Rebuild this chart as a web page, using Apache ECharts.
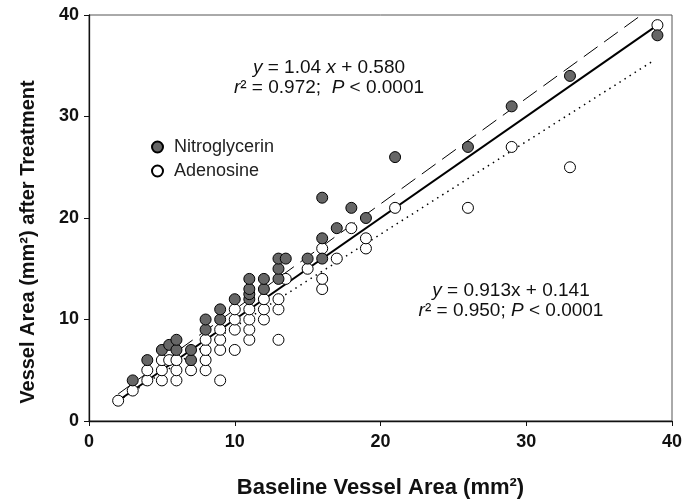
<!DOCTYPE html>
<html>
<head>
<meta charset="utf-8">
<script src="https://cdn.jsdelivr.net/npm/echarts@6/dist/echarts.min.js"></script>
<style>
html,body{margin:0;padding:0;background:#fff;}
#chart{width:694px;height:502px;}
</style>
</head>
<body>
<div id="chart"></div>
<script>
// ---- data ----
const xTicks = [0, 10, 20, 30, 40];
const yTicks = [0, 10, 20, 30, 40];

const adenosine = [
  [2,2],[3,3],[4,4],[4,5],[5,4],[5,5],[5,6],[5.5,6],[6,4],[6,5],[6,6],[7,5],
  [8,5],[8,6],[8,7],[8,8],[9,4],[9,7],[9,8],[9,9],[10,7],[10,9],[10,10],[10,11],
  [11,8],[11,9],[11,10],[11,11],[12,10],[12,11],[12,12],[13,8],[13,11],[13,12],
  [13.5,14],[15,15],[16,13],[16,14],[16,17],[17,16],[18,19],[19,17],[19,18],
  [21,21],[26,21],[29,27],[33,25],[39,39]
];

const nitroglycerin = [
  [3,4],[4,6],[5,7],[5.5,7.5],[6,7],[6,8],[7,6],[7,7],[8,9],[8,10],[9,10],[9,11],
  [10,12],[11,12],[11,12.5],[11,13],[11,14],[12,13],[12,14],[13,14],[13,15],[13,16],
  [13.5,16],[15,16],[16,16],[16,18],[16,22],[17,19],[18,21],[19,20],[21,26],
  [26,27],[29,31],[33,34],[39,38]
];

// line end points
const identityLine = [[2,2],[39,39]];          // solid line of identity
const nitroFitLine = [[2,2.66],[37.9,40]];      // dashed: y = 1.04x + 0.580
const adenoFitLine = [[2,1.97],[38.7,35.47]];   // dotted: y = 0.913x + 0.141

const seriesNames = ['Nitroglycerin', 'Adenosine'];
// -----------------------------------------------

const FONT = '"Liberation Sans", Arial, sans-serif';
const chart = echarts.init(document.getElementById('chart'), null, {renderer: 'canvas'});

const option = {
  animation: false,
  backgroundColor: '#fff',
  grid: {
    left: 89, right: 22, top: 15, bottom: 81,
    outerBoundsMode: 'none', containLabel: false,
    show: true, borderColor: '#555', borderWidth: 1, backgroundColor: 'transparent'
  },
  xAxis: {
    type: 'value', min: xTicks[0], max: xTicks[xTicks.length-1], interval: 10,
    name: 'Baseline Vessel Area (mm²)', nameLocation: 'middle', nameGap: 56,
    nameTextStyle: {fontFamily: FONT, fontWeight: 'bold', fontSize: 22, color: '#111'},
    axisLine: {show: true, lineStyle: {color: '#111', width: 1.3}},
    axisTick: {show: true, inside: false, length: 5, lineStyle: {color: '#111', width: 1}},
    axisLabel: {fontFamily: FONT, fontWeight: 'bold', fontSize: 18, color: '#111', margin: 12},
    splitLine: {show: false}
  },
  yAxis: {
    type: 'value', min: yTicks[0], max: yTicks[yTicks.length-1], interval: 10,
    name: 'Vessel Area (mm²) after Treatment', nameLocation: 'middle', nameGap: 51,
    nameTextStyle: {fontFamily: FONT, fontWeight: 'bold', fontSize: 20, color: '#111', padding: [0, 48, 0, 0]},
    axisLine: {show: true, lineStyle: {color: '#111', width: 1.3}},
    axisTick: {show: true, inside: false, length: 5, lineStyle: {color: '#111', width: 1}},
    axisLabel: {fontFamily: FONT, fontWeight: 'bold', fontSize: 18, color: '#111', margin: 10},
    splitLine: {show: false}
  },
  legend: {
    data: seriesNames,
    orient: 'vertical', left: 146, top: 133,
    itemWidth: 11, itemHeight: 11, itemGap: 6,
    textStyle: {fontFamily: FONT, fontSize: 18, color: '#222', padding: [0,0,0,6]}
  },
  series: [
    {
      type: 'line', name: 'identity', data: identityLine, symbol: 'none', silent: true, z: 2,
      lineStyle: {color: '#000', width: 2}
    },
    {
      type: 'line', name: 'nitroFit', data: nitroFitLine, symbol: 'none', silent: true, z: 2,
      lineStyle: {color: '#000', width: 1, type: [17, 8]}
    },
    {
      type: 'line', name: 'adenoFit', data: adenoFitLine, symbol: 'none', silent: true, z: 2,
      lineStyle: {color: '#000', width: 1.5, type: [1.5, 4.5]}
    },
    {
      type: 'scatter', name: seriesNames[1], data: adenosine, symbol: 'circle', symbolSize: 11, z: 3,
      itemStyle: {color: '#fff', borderColor: '#000', borderWidth: 1, opacity: 1}
    },
    {
      type: 'scatter', name: seriesNames[0], data: nitroglycerin, symbol: 'circle', symbolSize: 11, z: 4,
      itemStyle: {color: '#666', borderColor: '#000', borderWidth: 1, opacity: 1}
    }
  ],
  graphic: [
    {
      type: 'text', z: 10, silent: true,
      style: {
        x: 329, y: 58, align: 'center',
        text: '{i|y} = 1.04{i| x} + 0.580\n{i|r}² = 0.972;  {i|P} < 0.0001',
        font: '19px ' + FONT, fill: '#111', lineHeight: 20,
        rich: {i: {fontStyle: 'italic', fontFamily: FONT, fontSize: 19, fill: '#111'}}
      }
    },
    {
      type: 'text', z: 10, silent: true,
      style: {
        x: 511, y: 281, align: 'center',
        text: '{i|y} = 0.913x + 0.141\n{i|r}² = 0.950; {i|P} < 0.0001',
        font: '19px ' + FONT, fill: '#111', lineHeight: 20,
        rich: {i: {fontStyle: 'italic', fontFamily: FONT, fontSize: 19, fill: '#111'}}
      }
    }
  ]
};
chart.setOption(option);
</script>
</body>
</html>
